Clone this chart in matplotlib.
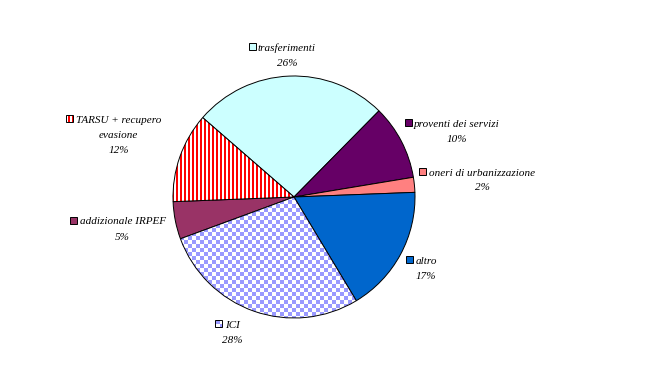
import numpy as np
import matplotlib
matplotlib.use("Agg")
import matplotlib.pyplot as plt
from matplotlib.patches import Rectangle

# ---- data ----
categories = ["trasferimenti", "proventi dei servizi", "oneri di urbanizzazione",
              "altro", "ICI", "addizionale IRPEF", "TARSU + recupero\nevasione"]
values = [26, 10, 2, 17, 28, 5, 12]

# ---- style ----
colors = ["#CCFFFF", "#660066", "#FF8080", "#0066CC", "#9999FF", "#993366", "#FF0000"]
patterns = [None, None, None, None, "checker", None, "stripes"]
# label layout: (block centre x, first baseline y) in image pixels (y down)
label_pos = [(287, 51), (457, 127), (482, 175.5), (426, 264), (232, 328), (122.5, 224.5), (118.5, 123)]

W, H = 656, 388
fig = plt.figure(figsize=(W / 100, H / 100), dpi=100)
ax = fig.add_axes([0, 0, 1, 1])

FONT = dict(family="Liberation Serif", style="italic", size=8, color="black")

yy, xx = np.mgrid[0:H, 0:W]


def texture(kind, color):
    c = np.array(matplotlib.colors.to_rgba(color))
    w = np.array([1, 1, 1, 1.0])
    if kind == "checker":
        m = ((xx // 4 + yy // 4) % 2) == 0
    else:
        m = ((xx // 2) % 2) == 0
    img = np.where(m[..., None], c, w)
    return img


wedges, _ = ax.pie(values, colors=colors, startangle=139, counterclock=False,
                   center=(294, H - 197), radius=121,
                   wedgeprops=dict(edgecolor="black", linewidth=0.7))

for wdg, pat, col in zip(wedges, patterns, colors):
    if pat:
        wdg.set_facecolor("none")
        wdg.set_zorder(3)
        im = ax.imshow(texture(pat, col), extent=(0, W, 0, H), origin="upper",
                       interpolation="nearest", zorder=2)
        im.set_clip_path(wdg)

ax.set_xlim(0, W)
ax.set_ylim(0, H)
ax.set_aspect("auto")
ax.axis("off")

renderer = fig.canvas.get_renderer()
total = sum(values)
for cat, val, (cx, by), col, pat in zip(categories, values, label_pos, colors, patterns):
    lines = cat.split("\n") + ["%d%%" % round(100 * val / total)]
    first = None
    for i, ln in enumerate(lines):
        t = ax.text(cx, H - (by + 15 * i), ln, ha="center", va="baseline", **FONT)
        if i == 0:
            first = t
    bb = first.get_window_extent(renderer)
    x_left = bb.x0
    ks = 7
    kx = x_left - 2.5 - ks
    ky = H - by + 1
    if pat:
        key = Rectangle((kx, ky), ks, ks, facecolor="none", edgecolor="black",
                        linewidth=0.7, zorder=5)
        ax.add_patch(key)
        im = ax.imshow(texture(pat, col), extent=(0, W, 0, H), origin="upper",
                       interpolation="nearest", zorder=4)
        im.set_clip_path(key)
    else:
        key = Rectangle((kx, ky), ks, ks, facecolor=col, edgecolor="black",
                        linewidth=0.7, zorder=5)
        ax.add_patch(key)

ax.set_xlim(0, W)
ax.set_ylim(0, H)
fig.savefig("out.png", dpi=100)
